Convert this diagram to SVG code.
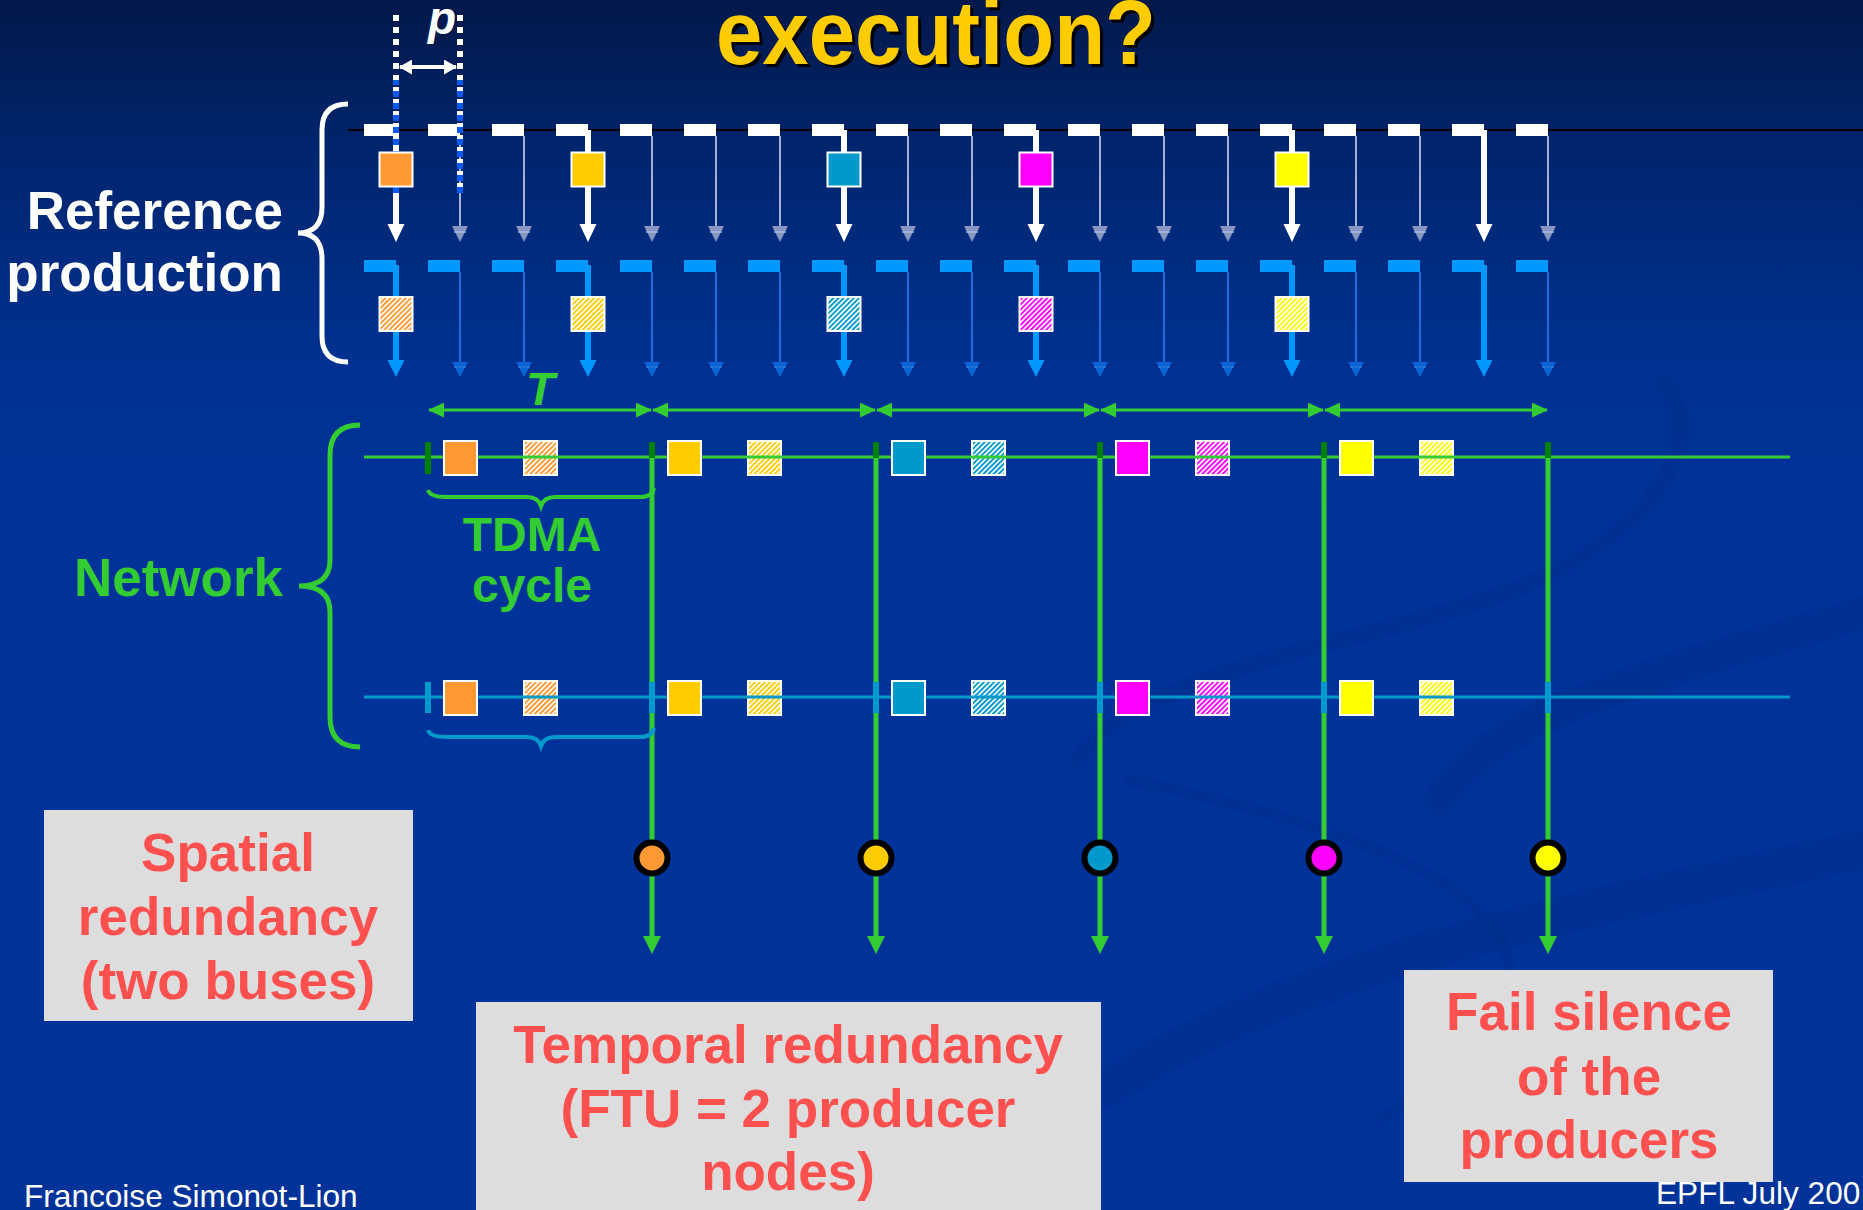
<svg xmlns="http://www.w3.org/2000/svg" xmlns:xlink="http://www.w3.org/1999/xlink" width="1863" height="1210" viewBox="0 0 1863 1210">
  <defs>
    <linearGradient id="bg" x1="0" y1="0" x2="0" y2="1210" gradientUnits="userSpaceOnUse">
      <stop offset="0" stop-color="#03184a"/>
      <stop offset="0.11" stop-color="#00246a"/>
      <stop offset="0.3" stop-color="#003192"/>
      <stop offset="0.42" stop-color="#003399"/>
      <stop offset="1" stop-color="#003399"/>
    </linearGradient>

    <!-- diagonal hatch fills for the replica messages -->
    <pattern id="h-orange" patternUnits="userSpaceOnUse" width="3.6" height="3.6" patternTransform="rotate(45)">
      <rect width="3.6" height="3.6" fill="#ffffff"/><rect width="1.9" height="3.6" fill="#FF9933"/>
    </pattern>
    <pattern id="h-gold" patternUnits="userSpaceOnUse" width="3.6" height="3.6" patternTransform="rotate(45)">
      <rect width="3.6" height="3.6" fill="#ffffff"/><rect width="1.9" height="3.6" fill="#FFCC00"/>
    </pattern>
    <pattern id="h-blue" patternUnits="userSpaceOnUse" width="3.6" height="3.6" patternTransform="rotate(45)">
      <rect width="3.6" height="3.6" fill="#ffffff"/><rect width="1.9" height="3.6" fill="#0099CC"/>
    </pattern>
    <pattern id="h-magenta" patternUnits="userSpaceOnUse" width="3.6" height="3.6" patternTransform="rotate(45)">
      <rect width="3.6" height="3.6" fill="#ffffff"/><rect width="1.9" height="3.6" fill="#FF00FF"/>
    </pattern>
    <pattern id="h-yellow" patternUnits="userSpaceOnUse" width="3.6" height="3.6" patternTransform="rotate(45)">
      <rect width="3.6" height="3.6" fill="#ffffff"/><rect width="1.9" height="3.6" fill="#FFFF00"/>
    </pattern>

    <!-- activation ticks of the reference production, drawn at x = 0 -->
    <g id="w-thin">
      <rect x="-32" y="124" width="32" height="12" fill="#ffffff"/>
      <line x1="0" y1="136" x2="0" y2="228" stroke="#a4b2d8" stroke-width="2"/>
      <polygon points="-8,226 8,226 0,242" fill="#8596c6"/>
      <line x1="-6" y1="232" x2="6" y2="232" stroke="#c4cee8" stroke-width="1"/>
    </g>
    <g id="w-heavy">
      <rect x="-32" y="124" width="32" height="12" fill="#ffffff"/>
      <rect x="-3" y="130" width="6" height="96" fill="#ffffff"/>
      <polygon points="-8.5,224 8.5,224 0,242" fill="#ffffff"/>
    </g>
    <g id="b-thin">
      <rect x="-32" y="260" width="32" height="12" fill="#0099FF"/>
      <line x1="0" y1="272" x2="0" y2="364" stroke="#1a6ddc" stroke-width="2"/>
      <polygon points="-8,362 8,362 0,377" fill="#0a62d4"/>
      <line x1="-6" y1="367" x2="6" y2="367" stroke="#2a80e8" stroke-width="1"/>
    </g>
    <g id="b-heavy">
      <rect x="-32" y="260" width="32" height="12" fill="#0099FF"/>
      <rect x="-3" y="265" width="6" height="97" fill="#0099FF"/>
      <polygon points="-8.5,360 8.5,360 0,377" fill="#0099FF"/>
    </g>

    <marker id="g-head" viewBox="0 0 16 15" refX="15" refY="7.5" markerWidth="16" markerHeight="15" markerUnits="userSpaceOnUse" orient="auto-start-reverse">
      <path d="M0,0 L16,7.5 L0,15 z" fill="#33CC33"/>
    </marker>
    <marker id="w-head" viewBox="0 0 13 15" refX="12" refY="7.5" markerWidth="13" markerHeight="15" markerUnits="userSpaceOnUse" orient="auto-start-reverse">
      <path d="M0,0 L13,7.5 L0,15 z" fill="#ffffff"/>
    </marker>
    <marker id="g-down" viewBox="0 0 18 18" refX="0" refY="9" markerWidth="18" markerHeight="18" markerUnits="userSpaceOnUse" orient="auto">
      <path d="M0,0 L18,9 L0,18 z" fill="#33CC33"/>
    </marker>

    <style>
      .b { font-family: "Liberation Sans", Arial, Helvetica, sans-serif; font-weight: bold; }
      .r { font-family: "Liberation Sans", Arial, Helvetica, sans-serif; }
      .note { fill: #FF5050; font-size: 53px; text-anchor: middle; }
      .side { font-size: 53px; text-anchor: end; }
      .msg { stroke: #ffffff; stroke-width: 2; }
      .swoosh { fill: none; stroke: #002a80; stroke-opacity: 0.22; stroke-linecap: round; }
      .mark-g { fill: #008000; }
      .mark-b { fill: #0099CC; }
      .sink { stroke: #000000; stroke-width: 6; }
    </style>
  </defs>

  <!-- slide background -->
  <rect x="0" y="0" width="1863" height="1210" fill="url(#bg)"/>
  <g id="backdrop">
    <path class="swoosh" stroke-width="18" d="M1078,760 C1140,660 1420,640 1560,570 C1680,500 1700,430 1665,385"/>
    <path class="swoosh" stroke-width="12" d="M1129,780 C1300,815 1490,870 1508,960 C1518,1030 1450,1080 1380,1120"/>
    <path class="swoosh" stroke-width="34" d="M1440,800 C1490,715 1650,675 1863,613"/>
    <path class="swoosh" stroke-width="40" d="M1105,1090 C1300,960 1600,905 1863,850"/>
  </g>

  <!-- title (second line) -->
  <g id="title" class="b" font-size="90">
    <text x="719" y="67" fill="#000000" textLength="440" lengthAdjust="spacingAndGlyphs">execution?</text>
    <text x="716" y="64" fill="#FFCC00" textLength="440" lengthAdjust="spacingAndGlyphs">execution?</text>
  </g>

  <!-- side labels and braces -->
  <g id="label-reference">
    <text class="b side" x="283" y="229" fill="#ffffff">Reference</text>
    <text class="b side" x="283" y="291" fill="#ffffff">production</text>
    <path d="M348,104 Q322,104 322,130 L322,207 Q322,233 298,233 Q322,233 322,259 L322,336 Q322,362 348,362" fill="none" stroke="#ffffff" stroke-width="5"/>
  </g>
  <g id="label-network">
    <text class="b side" x="283" y="596" fill="#33CC33">Network</text>
    <path d="M360,425 Q330,425 330,455 L330,560 Q330,586 299,586 Q330,586 330,612 L330,717 Q330,747 360,747" fill="none" stroke="#33CC33" stroke-width="5"/>
  </g>

  <!-- reference production: primary activations -->
  <g id="ref-primary">
    <line x1="348" y1="130" x2="1863" y2="130" stroke="#000000" stroke-width="2"/>
    <use href="#w-heavy" x="396"/>
    <use href="#w-thin" x="460"/>
    <use href="#w-thin" x="524"/>
    <use href="#w-heavy" x="588"/>
    <use href="#w-thin" x="652"/>
    <use href="#w-thin" x="716"/>
    <use href="#w-thin" x="780"/>
    <use href="#w-heavy" x="844"/>
    <use href="#w-thin" x="908"/>
    <use href="#w-thin" x="972"/>
    <use href="#w-heavy" x="1036"/>
    <use href="#w-thin" x="1100"/>
    <use href="#w-thin" x="1164"/>
    <use href="#w-thin" x="1228"/>
    <use href="#w-heavy" x="1292"/>
    <use href="#w-thin" x="1356"/>
    <use href="#w-thin" x="1420"/>
    <use href="#w-heavy" x="1484"/>
    <use href="#w-thin" x="1548"/>
  </g>

  <!-- reference production: replica activations -->
  <g id="ref-replica">
    <use href="#b-heavy" x="396"/>
    <use href="#b-thin" x="460"/>
    <use href="#b-thin" x="524"/>
    <use href="#b-heavy" x="588"/>
    <use href="#b-thin" x="652"/>
    <use href="#b-thin" x="716"/>
    <use href="#b-thin" x="780"/>
    <use href="#b-heavy" x="844"/>
    <use href="#b-thin" x="908"/>
    <use href="#b-thin" x="972"/>
    <use href="#b-heavy" x="1036"/>
    <use href="#b-thin" x="1100"/>
    <use href="#b-thin" x="1164"/>
    <use href="#b-thin" x="1228"/>
    <use href="#b-heavy" x="1292"/>
    <use href="#b-thin" x="1356"/>
    <use href="#b-thin" x="1420"/>
    <use href="#b-heavy" x="1484"/>
    <use href="#b-thin" x="1548"/>
  </g>

  <!-- period p -->
  <g id="period-p">
    <line x1="396" y1="15" x2="396" y2="193" stroke="#ffffff" stroke-width="6" stroke-dasharray="6 6"/>
    <line x1="396" y1="80" x2="396" y2="193" stroke="#0a5cf0" stroke-width="6" stroke-dasharray="6 6" stroke-dashoffset="1"/>
    <line x1="460" y1="15" x2="460" y2="193" stroke="#ffffff" stroke-width="6" stroke-dasharray="6 6"/>
    <line x1="460" y1="80" x2="460" y2="193" stroke="#0a5cf0" stroke-width="6" stroke-dasharray="6 6" stroke-dashoffset="1"/>
    <line x1="400" y1="67" x2="456" y2="67" stroke="#ffffff" stroke-width="4" marker-start="url(#w-head)" marker-end="url(#w-head)"/>
    <text class="b" x="428" y="34" font-size="46" font-style="italic" fill="#ffffff">p</text>
  </g>

  <!-- produced messages -->
  <g id="ref-orange"><rect class="msg" x="379.5" y="152.5" width="33" height="34" fill="#FF9933"/><rect class="msg" x="379.5" y="297" width="33" height="34" fill="url(#h-orange)"/></g>
  <g id="ref-gold"><rect class="msg" x="571.5" y="152.5" width="33" height="34" fill="#FFCC00"/><rect class="msg" x="571.5" y="297" width="33" height="34" fill="url(#h-gold)"/></g>
  <g id="ref-blue"><rect class="msg" x="827.5" y="152.5" width="33" height="34" fill="#0099CC"/><rect class="msg" x="827.5" y="297" width="33" height="34" fill="url(#h-blue)"/></g>
  <g id="ref-magenta"><rect class="msg" x="1019.5" y="152.5" width="33" height="34" fill="#FF00FF"/><rect class="msg" x="1019.5" y="297" width="33" height="34" fill="url(#h-magenta)"/></g>
  <g id="ref-yellow"><rect class="msg" x="1275.5" y="152.5" width="33" height="34" fill="#FFFF00"/><rect class="msg" x="1275.5" y="297" width="33" height="34" fill="url(#h-yellow)"/></g>

  <!-- TDMA cycle length T -->
  <g id="cycle-T">
    <line x1="429" y1="410" x2="651" y2="410" stroke="#33CC33" stroke-width="3" marker-start="url(#g-head)" marker-end="url(#g-head)"/>
    <line x1="653" y1="410" x2="875" y2="410" stroke="#33CC33" stroke-width="3" marker-start="url(#g-head)" marker-end="url(#g-head)"/>
    <line x1="877" y1="410" x2="1099" y2="410" stroke="#33CC33" stroke-width="3" marker-start="url(#g-head)" marker-end="url(#g-head)"/>
    <line x1="1101" y1="410" x2="1323" y2="410" stroke="#33CC33" stroke-width="3" marker-start="url(#g-head)" marker-end="url(#g-head)"/>
    <line x1="1325" y1="410" x2="1547" y2="410" stroke="#33CC33" stroke-width="3" marker-start="url(#g-head)" marker-end="url(#g-head)"/>
    <text class="b" x="526" y="405" font-size="47" font-style="italic" fill="#33CC33">T</text>
  </g>

  <!-- replica frames sit under the bus lines -->
  <g id="bus-replicas">
    <rect class="msg" x="524" y="441" width="33" height="34" fill="url(#h-orange)"/>
    <rect class="msg" x="748" y="441" width="33" height="34" fill="url(#h-gold)"/>
    <rect class="msg" x="972" y="441" width="33" height="34" fill="url(#h-blue)"/>
    <rect class="msg" x="1196" y="441" width="33" height="34" fill="url(#h-magenta)"/>
    <rect class="msg" x="1420" y="441" width="33" height="34" fill="url(#h-yellow)"/>
    <rect class="msg" x="524" y="681" width="33" height="34" fill="url(#h-orange)"/>
    <rect class="msg" x="748" y="681" width="33" height="34" fill="url(#h-gold)"/>
    <rect class="msg" x="972" y="681" width="33" height="34" fill="url(#h-blue)"/>
    <rect class="msg" x="1196" y="681" width="33" height="34" fill="url(#h-magenta)"/>
    <rect class="msg" x="1420" y="681" width="33" height="34" fill="url(#h-yellow)"/>
  </g>

  <!-- the two buses -->
  <g id="bus-1"><line x1="364" y1="457" x2="1790" y2="457" stroke="#33CC33" stroke-width="3"/></g>
  <g id="bus-2"><line x1="364" y1="697" x2="1790" y2="697" stroke="#0099CC" stroke-width="3"/></g>

  <!-- end-of-cycle delivery lines -->
  <g id="connectors">
    <line x1="652" y1="457" x2="652" y2="936" stroke="#33CC33" stroke-width="5" marker-end="url(#g-down)"/>
    <line x1="876" y1="457" x2="876" y2="936" stroke="#33CC33" stroke-width="5" marker-end="url(#g-down)"/>
    <line x1="1100" y1="457" x2="1100" y2="936" stroke="#33CC33" stroke-width="5" marker-end="url(#g-down)"/>
    <line x1="1324" y1="457" x2="1324" y2="936" stroke="#33CC33" stroke-width="5" marker-end="url(#g-down)"/>
    <line x1="1548" y1="457" x2="1548" y2="936" stroke="#33CC33" stroke-width="5" marker-end="url(#g-down)"/>
  </g>

  <!-- slot boundaries on each bus -->
  <g id="cycle-marks">
    <rect class="mark-g" x="425" y="442" width="6" height="32"/>
    <rect class="mark-g" x="649" y="442" width="6" height="16"/>
    <rect class="mark-g" x="873" y="442" width="6" height="16"/>
    <rect class="mark-g" x="1097" y="442" width="6" height="16"/>
    <rect class="mark-g" x="1321" y="442" width="6" height="16"/>
    <rect class="mark-g" x="1545" y="442" width="6" height="16"/>
    <rect class="mark-b" x="425" y="682" width="6" height="31"/>
    <rect class="mark-b" x="649" y="682" width="6" height="31"/>
    <rect class="mark-b" x="873" y="682" width="6" height="31"/>
    <rect class="mark-b" x="1097" y="682" width="6" height="31"/>
    <rect class="mark-b" x="1321" y="682" width="6" height="31"/>
    <rect class="mark-b" x="1545" y="682" width="6" height="31"/>
  </g>

  <!-- primary frames on the buses -->
  <g id="bus-frames">
    <rect class="msg" x="444" y="441" width="33" height="34" fill="#FF9933"/>
    <rect class="msg" x="668" y="441" width="33" height="34" fill="#FFCC00"/>
    <rect class="msg" x="892" y="441" width="33" height="34" fill="#0099CC"/>
    <rect class="msg" x="1116" y="441" width="33" height="34" fill="#FF00FF"/>
    <rect class="msg" x="1340" y="441" width="33" height="34" fill="#FFFF00"/>
    <rect class="msg" x="444" y="681" width="33" height="34" fill="#FF9933"/>
    <rect class="msg" x="668" y="681" width="33" height="34" fill="#FFCC00"/>
    <rect class="msg" x="892" y="681" width="33" height="34" fill="#0099CC"/>
    <rect class="msg" x="1116" y="681" width="33" height="34" fill="#FF00FF"/>
    <rect class="msg" x="1340" y="681" width="33" height="34" fill="#FFFF00"/>
  </g>

  <!-- TDMA cycle braces -->
  <g id="tdma-cycle">
    <path d="M428,490 Q430,497 446,497 L527,497 Q538,497 541,506 Q544,497 555,497 L640,497 Q652,497 654,488" fill="none" stroke="#33CC33" stroke-width="4"/>
    <path d="M428,730 Q430,737 446,737 L527,737 Q538,737 541,746 Q544,737 555,737 L640,737 Q652,737 654,728" fill="none" stroke="#0099CC" stroke-width="4"/>
    <text class="b" x="532" y="551" font-size="48" text-anchor="middle" fill="#33CC33">TDMA</text>
    <text class="b" x="532" y="602" font-size="48" text-anchor="middle" fill="#33CC33">cycle</text>
  </g>

  <!-- delivered values -->
  <g id="sink-orange"><circle class="sink" cx="652" cy="858" r="15.5" fill="#FF9933"/></g>
  <g id="sink-gold"><circle class="sink" cx="876" cy="858" r="15.5" fill="#FFCC00"/></g>
  <g id="sink-blue"><circle class="sink" cx="1100" cy="858" r="15.5" fill="#0099CC"/></g>
  <g id="sink-magenta"><circle class="sink" cx="1324" cy="858" r="15.5" fill="#FF00FF"/></g>
  <g id="sink-yellow"><circle class="sink" cx="1548" cy="858" r="15.5" fill="#FFFF00"/></g>

  <!-- annotations -->
  <g id="note-spatial">
    <rect x="44" y="810" width="369" height="211" fill="#DDDDDD"/>
    <text class="b note" x="228" y="871">Spatial</text>
    <text class="b note" x="228" y="935">redundancy</text>
    <text class="b note" x="228" y="999">(two buses)</text>
  </g>
  <g id="note-temporal">
    <rect x="476" y="1002" width="625" height="220" fill="#DDDDDD"/>
    <text class="b note" x="788" y="1063">Temporal redundancy</text>
    <text class="b note" x="788" y="1127">(FTU = 2 producer</text>
    <text class="b note" x="788" y="1190">nodes)</text>
  </g>
  <g id="note-failsilence">
    <rect x="1404" y="970" width="369" height="212" fill="#DDDDDD"/>
    <text class="b note" x="1589" y="1030">Fail silence</text>
    <text class="b note" x="1589" y="1095">of the</text>
    <text class="b note" x="1589" y="1158">producers</text>
  </g>

  <!-- footer -->
  <g id="footer" class="r" fill="#ffffff" font-size="31.6">
    <text x="24" y="1207">Francoise Simonot-Lion</text>
    <text x="1656" y="1204">EPFL July 200</text>
  </g>
</svg>
